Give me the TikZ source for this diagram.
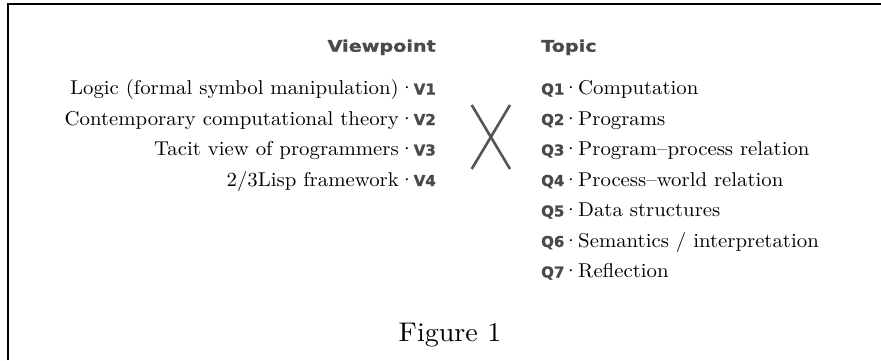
\documentclass[tikz,border=0pt]{standalone}
\usepackage{fontspec}
\newfontfamily\bodyfont{lmroman10-regular.otf}[FakeStretch=1.04, Ligatures=TeX]
\newfontfamily\headfont{DejaVu Sans}[FakeStretch=1.2, FakeBold=1.2]
\newfontfamily\tagfont{DejaVu Sans}[FakeBold=1.2]
\definecolor{taggray}{HTML}{4A4A4A}
\definecolor{crossgray}{HTML}{555555}

\begin{document}
\begin{tikzpicture}[x=1pt,y=1pt,
        head/.style={font=\headfont\bfseries\fontsize{16}{16}\selectfont, text=taggray, inner sep=0pt},
        tag/.style={font=\tagfont\bfseries\fontsize{15}{15}\selectfont, text=taggray, inner sep=0pt},
        txt/.style={font=\bodyfont\fontsize{20}{20}\selectfont, inner sep=0pt},
        sep/.style={font=\bodyfont\fontsize{20}{20}\selectfont, inner sep=0pt, anchor=base}]
    \useasboundingbox (0,0) rectangle (881,360);
    % frame, only top and left edges
    \draw[line width=1.5pt] (8,0) -- (8,356) -- (881,356);

    % headings
    \node[head, anchor=base east] (viewpoint) at (436,308.3) {Viewpoint};
    \node[head, anchor=base west] (topic) at (541,308.3) {Topic};

    % viewpoints
    \foreach \i/\view in {1/{Logic (formal symbol manipulation)},
            2/{Contemporary computational theory},
            3/{Tacit view of programmers},
            4/{2/3Lisp framework}} {
        \node[tag, anchor=base east] (v\i) at (436,296-30.5*\i) {V\i};
        \node[sep] (vd\i) at (407,296-30.5*\i) {·};
        \node[txt, anchor=base east] (vt\i) at (399,296-30.5*\i) {\view};
    }

    % topics
    \foreach \i/\topic in {1/{Computation},
            2/{Programs},
            3/{Program--process relation},
            4/{Process--world relation},
            5/{Data structures},
            6/{Semantics / interpretation},
            7/{Reflection}} {
        \node[tag, anchor=base west] (q\i) at (541,296-30.5*\i) {Q\i};
        \node[sep] (qd\i) at (571,296-30.5*\i) {·};
        \node[txt, anchor=base west] (qt\i) at (578,296-30.5*\i) {\topic};
    }

    % the cross between the columns
    \coordinate (xa) at (471.7,255);
    \coordinate (xb) at (510,191);
    \coordinate (xc) at (510,255);
    \coordinate (xd) at (471.7,191);
    \draw[crossgray, line width=2.6pt] (xa) -- (xb);
    \draw[crossgray, line width=2.6pt] (xc) -- (xd);

    \node[font=\bodyfont\fontsize{27}{27}\selectfont, inner sep=0pt, anchor=base] (caption) at (450,18.3) {Figure 1};
\end{tikzpicture}
\end{document}
